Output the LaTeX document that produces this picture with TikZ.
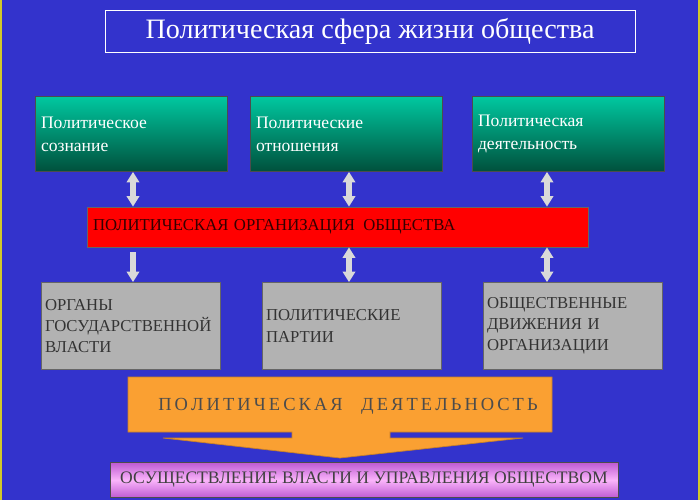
\documentclass[tikz,border=0pt]{standalone}
\usepackage{fontspec}
\setmainfont{Liberation Serif}
\usetikzlibrary{arrows.meta}
\definecolor{bg}{RGB}{51,51,204}
\definecolor{tealA}{RGB}{0,200,160}
\definecolor{tealB}{RGB}{0,80,60}
\definecolor{orangeA}{RGB}{250,160,50}
\definecolor{violetA}{RGB}{190,90,210}
\definecolor{pinkA}{RGB}{250,180,250}
\tikzset{
  topbox/.style={draw=black!70, top color=tealA, bottom color=tealB, text=white,
    minimum width=3.84cm, minimum height=1.5cm, align=left, text width=3.6cm,
    font=\fontsize{10}{13}\selectfont},
  greybox/.style={draw=black!60, fill=black!30, text=black!80, inner sep=2pt,
    minimum width=3.58cm, minimum height=1.74cm, align=left, text width=3.44cm,
    font=\fontsize{9.5}{12}\selectfont},
  link/.style={line width=3pt, draw=black!15, {Triangle[width=7pt,length=6pt]}-{Triangle[width=7pt,length=6pt]}},
  downlink/.style={line width=3pt, draw=black!15, -{Triangle[width=7pt,length=6pt]}}
}
\begin{document}
\begin{tikzpicture}[x=0.02cm,y=-0.02cm]
  \fill[yellow!80!black] (0,0) rectangle (700,500);
  \fill[bg] (2,0) rectangle (698,500);
  \useasboundingbox (0,0) rectangle (700,500);

  \node[draw=white!80, minimum width=10.6cm, minimum height=0.84cm, text=white,
        font=\fontsize{16}{19}\selectfont] (title) at (370,31) {Политическая сфера жизни общества};

  \node[topbox] (consc) at (131,134) {Политическое\\сознание};
  \node[topbox] (rel)   at (346,134) {Политические\\отношения};
  \node[topbox] (act)   at (568,134) {Политическая\\деятельность};

  \node[draw=black!60, fill=red, minimum width=10cm, minimum height=0.8cm, text width=9.8cm,
        align=left, text=black!80!red, font=\fontsize{9.5}{11}\selectfont] (org) at (338,227)
        {ПОЛИТИЧЕСКАЯ ОРГАНИЗАЦИЯ\, ОБЩЕСТВА};

  \node[greybox] (organs)  at (131,326) {ОРГАНЫ\\ГОСУДАРСТВЕННОЙ\\ВЛАСТИ};
  \node[greybox] (parties) at (352,326) {ПОЛИТИЧЕСКИЕ\\ПАРТИИ};
  \node[greybox] (moves)   at (573,326) {ОБЩЕСТВЕННЫЕ\\ДВИЖЕНИЯ И\\ОРГАНИЗАЦИИ};

  % connectors between rows
  \draw[link] (consc.south -| 133,0) -- (org.north -| 133,0);
  \draw[link] (rel.south -| 349,0) -- (org.north -| 349,0);
  \draw[link] (act.south -| 547,0) -- (org.north -| 547,0);
  \draw[downlink] (133,252) -- (organs.north -| 133,0);
  \draw[link] (org.south -| 349,0) -- (parties.north -| 349,0);
  \draw[link] (org.south -| 547,0) -- (moves.north -| 547,0);

  % big orange arrow
  \fill[orangeA, draw=orangeA!80!black] (128,377) -- (552,377) -- (552,432) -- (390,432) -- (390,438)
    -- (523,438) -- (340,458) -- (163,438) -- (292,438) -- (292,432) -- (128,432) -- cycle;
  \node[text=black!70, font=\fontsize{10.5}{12}\selectfont] (pact) at (348,406)
    {П\,О\,Л\,И\,Т\,И\,Ч\,Е\,С\,К\,А\,Я\quad Д\,Е\,Я\,Т\,Е\,Л\,Ь\,Н\,О\,С\,Т\,Ь};

  \node[draw=black!70, top color=violetA, bottom color=violetA, middle color=pinkA,
        minimum width=10.16cm, minimum height=0.7cm, text=black!75,
        font=\fontsize{10}{11}\selectfont] (power) at (364,480)
        {ОСУЩЕСТВЛЕНИЕ ВЛАСТИ И УПРАВЛЕНИЯ ОБЩЕСТВОМ};
\end{tikzpicture}
\end{document}
